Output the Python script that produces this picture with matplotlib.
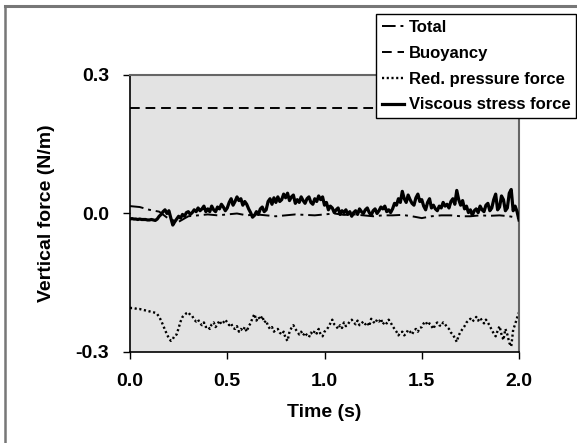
import numpy as np
import matplotlib.pyplot as plt
from matplotlib.lines import Line2D

plt.rcParams['font.family'] = 'Liberation Sans'
plt.rcParams['font.weight'] = 'bold'

# time bases (s)
t_fine = np.arange(201) * 0.01
t_coarse = np.arange(41) * 0.05
t_buoy = [0.0, 2.0]

viscous = [
    -0.012, -0.011, -0.012, -0.012, -0.013, -0.012, -0.013, -0.013, -0.013, -0.014,
    -0.014, -0.013, -0.014, -0.015, -0.012, -0.006, -0.002, 0.004, 0.008, 0.000,
    0.006, -0.010, -0.025, -0.018, -0.012, -0.006, -0.010, -0.002, -0.006, 0.002,
    0.004, -0.002, 0.002, 0.008, 0.004, 0.012, 0.006, 0.010, 0.016, 0.004,
    0.010, 0.004, 0.016, 0.008, 0.004, 0.014, 0.010, 0.020, 0.014, 0.006,
    0.012, 0.024, 0.032, 0.018, 0.026, 0.036, 0.028, 0.032, 0.018, 0.026,
    0.020, 0.010, 0.002, -0.008, -0.004, 0.004, -0.002, 0.010, 0.014, 0.004,
    0.008, 0.026, 0.032, 0.020, 0.034, 0.024, 0.036, 0.026, 0.030, 0.042,
    0.034, 0.044, 0.028, 0.036, 0.040, 0.022, 0.030, 0.024, 0.036, 0.028,
    0.022, 0.032, 0.036, 0.024, 0.020, 0.032, 0.026, 0.038, 0.030, 0.036,
    0.018, 0.024, 0.008, 0.016, 0.012, 0.002, 0.008, 0.012, -0.002, 0.006,
    0.002, 0.008, -0.002, 0.004, -0.006, 0.002, 0.006, -0.002, 0.010, 0.004,
    0.000, 0.008, 0.012, 0.002, -0.004, 0.006, 0.010, 0.000, 0.006, 0.014,
    0.010, 0.016, 0.004, 0.008, 0.002, 0.010, 0.022, 0.018, 0.032, 0.024,
    0.048, 0.032, 0.024, 0.040, 0.030, 0.022, 0.018, 0.034, 0.042, 0.026,
    0.030, 0.016, 0.008, 0.024, 0.032, 0.012, 0.018, 0.010, 0.006, 0.016,
    0.012, 0.024, 0.016, 0.020, 0.012, 0.026, 0.032, 0.020, 0.050, 0.030,
    0.018, 0.028, 0.010, 0.016, 0.002, 0.008, -0.004, 0.006, 0.010, 0.002,
    0.016, 0.008, 0.004, 0.018, 0.022, 0.006, 0.012, 0.030, 0.042, 0.008,
    0.014, 0.038, 0.030, 0.006, 0.012, 0.044, 0.052, 0.006, 0.016, 0.004,
    -0.014,
]

pressure = [
    -0.204, -0.205, -0.205, -0.206, -0.207, -0.207, -0.208, -0.209, -0.210, -0.211,
    -0.212, -0.213, -0.214, -0.215, -0.218, -0.224, -0.232, -0.242, -0.252, -0.262,
    -0.270, -0.276, -0.272, -0.264, -0.262, -0.248, -0.234, -0.224, -0.220, -0.216,
    -0.214, -0.220, -0.222, -0.230, -0.234, -0.230, -0.238, -0.242, -0.236, -0.246,
    -0.244, -0.250, -0.240, -0.236, -0.246, -0.240, -0.232, -0.240, -0.236, -0.230,
    -0.236, -0.242, -0.238, -0.248, -0.250, -0.244, -0.256, -0.250, -0.254, -0.246,
    -0.256, -0.244, -0.238, -0.226, -0.218, -0.232, -0.224, -0.230, -0.222, -0.236,
    -0.232, -0.244, -0.250, -0.246, -0.256, -0.252, -0.250, -0.258, -0.262, -0.256,
    -0.270, -0.276, -0.256, -0.248, -0.242, -0.250, -0.256, -0.262, -0.256, -0.264,
    -0.258, -0.264, -0.268, -0.258, -0.262, -0.254, -0.260, -0.250, -0.262, -0.266,
    -0.256, -0.252, -0.246, -0.238, -0.230, -0.240, -0.244, -0.250, -0.242, -0.248,
    -0.236, -0.244, -0.240, -0.234, -0.230, -0.236, -0.240, -0.232, -0.242, -0.238,
    -0.234, -0.240, -0.236, -0.244, -0.228, -0.234, -0.238, -0.230, -0.234, -0.228,
    -0.240, -0.234, -0.238, -0.230, -0.236, -0.244, -0.250, -0.256, -0.264, -0.258,
    -0.256, -0.264, -0.260, -0.252, -0.256, -0.262, -0.254, -0.250, -0.256, -0.248,
    -0.246, -0.238, -0.234, -0.242, -0.238, -0.244, -0.250, -0.240, -0.236, -0.242,
    -0.244, -0.236, -0.240, -0.246, -0.250, -0.258, -0.262, -0.270, -0.278, -0.264,
    -0.256, -0.250, -0.244, -0.236, -0.232, -0.228, -0.234, -0.230, -0.224, -0.232,
    -0.226, -0.232, -0.238, -0.230, -0.236, -0.244, -0.252, -0.260, -0.266, -0.254,
    -0.244, -0.262, -0.274, -0.250, -0.262, -0.280, -0.288, -0.252, -0.240, -0.226,
    -0.214,
]

total = [
    0.016, 0.014, 0.008, 0.004, -0.012, -0.018, -0.006, -0.004, -0.002, -0.004,
    -0.002, 0.000, -0.004, -0.002, -0.004, -0.006, -0.004, -0.002, -0.003, -0.004,
    -0.002, 0.000, -0.003, -0.002, -0.004, -0.006, -0.004, -0.004, -0.003, -0.006,
    -0.010, -0.006, -0.004, -0.004, -0.006, -0.006, -0.004, -0.005, -0.004, -0.006,
    -0.010,
]

buoyancy = [0.228, 0.228]

fig = plt.figure(figsize=(5.77, 4.43), dpi=100)
ax = fig.add_axes([130 / 577, 91 / 443, 389 / 577, 277 / 443])
ax.set_facecolor('#e3e3e3')

ax.plot(t_coarse, total, color='black', lw=1.4, dashes=(7, 2.5, 1.5, 2.5), label='Total', zorder=2)
ax.plot(t_buoy, buoyancy, color='black', lw=1.4, dashes=(5, 3), label='Buoyancy', zorder=2)
ax.plot(t_fine, pressure, color='black', lw=1.7, dashes=(0.9, 1.1), label='Red. pressure force', zorder=2)
ax.plot(t_fine, viscous, color='black', lw=2.3, label='Viscous stress force', zorder=3)

ax.set_xlim(0, 2.0)
ax.set_ylim(-0.3, 0.3)
ax.set_xticks([0.0, 0.5, 1.0, 1.5, 2.0])
ax.set_yticks([-0.3, 0.0, 0.3])
ax.xaxis.set_major_formatter(plt.FormatStrFormatter('%.1f'))
ax.yaxis.set_major_formatter(plt.FormatStrFormatter('%.1f'))
ax.tick_params(direction='out', length=5, width=1, labelsize=14, pad=10)

for side in ['left', 'bottom']:
    ax.spines[side].set_color('black')
    ax.spines[side].set_linewidth(1.2)
for side in ['right', 'top']:
    ax.spines[side].set_color('#666666')
    ax.spines[side].set_linewidth(1.5)

ax.set_xlabel('Time (s)', fontsize=14, fontweight='bold', labelpad=10)
ax.set_ylabel('Vertical force (N/m)', fontsize=14, fontweight='bold', labelpad=15)

leg = fig.legend(loc='upper left', bbox_to_anchor=(376 / 577, 1 - 14 / 443), borderaxespad=0,
                 fontsize=12, handlelength=1.3, handletextpad=0.3, labelspacing=0.65,
                 fancybox=False, framealpha=1, edgecolor='black', borderpad=0.35)
leg.get_frame().set_linewidth(1.0)
for txt in leg.get_texts():
    txt.set_fontweight('bold')

# outer border (left and top only)
fig.add_artist(Line2D([5 / 577, 5 / 577], [0, 1 - 6 / 443], color='#777777', lw=1.8))
fig.add_artist(Line2D([5 / 577, 1], [1 - 6 / 443, 1 - 6 / 443], color='#777777', lw=2.2))

fig.savefig('out.png', dpi=100)
